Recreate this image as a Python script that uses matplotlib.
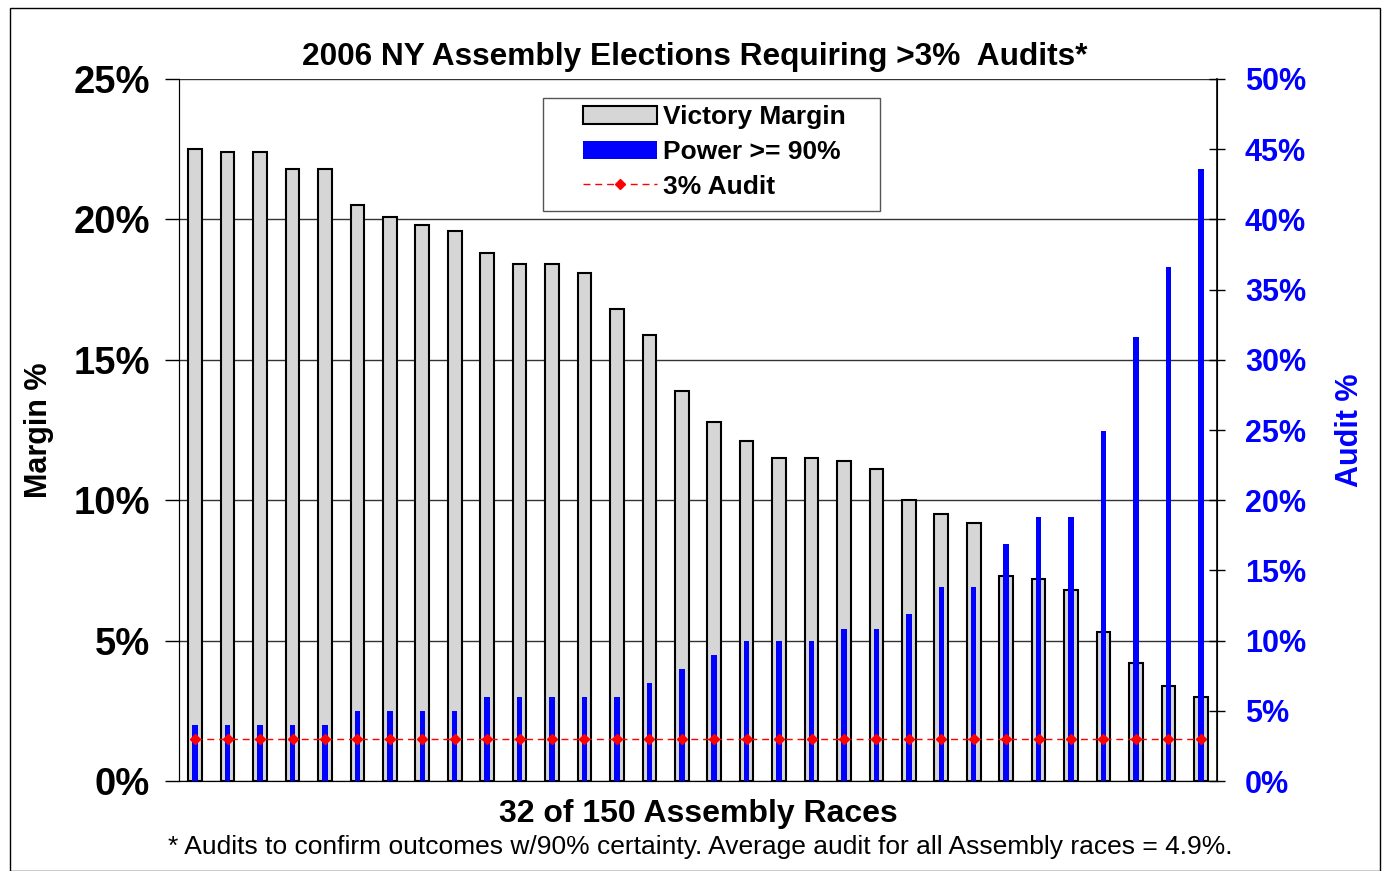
"""2006 NY Assembly elections: victory margin vs. audit size needed."""
import numpy as np
import matplotlib
matplotlib.use("Agg")
import matplotlib.pyplot as plt
from matplotlib.patches import Rectangle
from matplotlib.lines import Line2D
from matplotlib.ticker import FuncFormatter

# victory margin (%) per race, left axis
margin = [22.5, 22.4, 22.4, 21.8, 21.8, 20.5, 20.1, 19.8, 19.6, 18.8,
          18.4, 18.4, 18.1, 16.8, 15.9, 13.9, 12.8, 12.1, 11.5, 11.5,
          11.4, 11.1, 10.0, 9.5, 9.2, 7.3, 7.2, 6.8, 5.3, 4.2, 3.4, 3.0]
# audit (%) needed for power >= 90%, right axis
audit = [4.0, 4.0, 4.0, 4.0, 4.0, 5.0, 5.0, 5.0, 5.0, 6.0,
         6.0, 6.0, 6.0, 6.0, 7.0, 8.0, 9.0, 10.0, 10.0, 10.0,
         10.8, 10.8, 11.9, 13.8, 13.8, 16.9, 18.8, 18.8, 24.9, 31.6,
         36.6, 43.6]
flat_audit = 3.0

plt.rcParams.update({
    "font.family": ["Liberation Sans", "DejaVu Sans"],
    "font.weight": "bold",
})

W, H = 1387, 871
fig = plt.figure(figsize=(W / 100, H / 100), dpi=100)
ax = fig.add_axes([179 / W, 1 - 781 / H, (1217 - 179) / W, (781 - 79) / H])
ax2 = ax.twinx()

x = np.arange(len(margin))
ax.bar(x, margin, width=0.42, color="#d6d6d6", edgecolor="black", linewidth=1.5, zorder=2)
ax2.bar(x, audit, width=0.17, color="#0000ff", zorder=3)
ax2.plot(x, [flat_audit] * len(x), color="red", ls=(0, (5, 3.5)), lw=1.0,
         marker="D", ms=5.5, zorder=4)

ax.set_xlim(-0.5, len(x) - 0.5)
ax.set_ylim(0, 25)
ax2.set_ylim(0, 50)
ax.set_yticks(np.arange(0, 26, 5))
ax2.set_yticks(np.arange(0, 51, 5))
pct = FuncFormatter(lambda v, p: f"{v:.0f}%")
ax.yaxis.set_major_formatter(pct)
ax2.yaxis.set_major_formatter(pct)
ax.set_xticks([])
ax.grid(True, axis="y", color="#333333", linewidth=1.0, zorder=0)
ax.set_axisbelow(True)
ax.set_zorder(0)
ax2.set_zorder(1)
ax.patch.set_visible(False)

for a in (ax, ax2):
    a.spines["top"].set_visible(False)
ax.spines["left"].set_color("#333333")
ax.spines["bottom"].set_color("#333333")
ax2.spines["right"].set_linewidth(1.2)
ax.tick_params(axis="y", direction="out", length=10, width=1, labelsize=27.5, pad=11)
ax2.tick_params(axis="y", direction="inout", length=12, width=1, labelsize=22,
                labelcolor="#0000ff", pad=14)

ax.set_ylabel("Margin %", fontsize=22, fontweight="bold", labelpad=14)
ax2.set_ylabel("Audit %", fontsize=22, fontweight="bold", color="#0000ff", labelpad=21)
ax.set_xlabel("32 of 150 Assembly Races", fontsize=23, fontweight="bold", labelpad=13)
fig.text(0.501, 1 - 57 / H, "2006 NY Assembly Elections Requiring >3%  Audits*",
         ha="center", va="center", fontsize=22.8, fontweight="bold")
fig.text(0.505, 1 - 847 / H,
         "* Audits to confirm outcomes w/90% certainty. Average audit for all Assembly races = 4.9%.",
         ha="center", va="center", fontsize=19, fontweight="normal")

# legend box drawn separately: wide side padding, tight top/bottom
ax2.add_patch(Rectangle(((543 - 179) / 1038, 1 - (211 - 79) / 702),
                        (880 - 543) / 1038, (211 - 98) / 702,
                        transform=ax2.transAxes, facecolor="white",
                        edgecolor="#555555", linewidth=1.0, zorder=5))
handles = [
    Rectangle((0, 0), 1, 1, facecolor="#d6d6d6", edgecolor="black", linewidth=1.5),
    Rectangle((0, 0), 1, 1, facecolor="#0000ff", edgecolor="none"),
    Line2D([], [], color="red", ls=(0, (5, 3.5)), lw=1.0, marker="D", ms=5.5),
]
leg = ax2.legend(handles, ["Victory Margin", "Power >= 90%", "3% Audit"],
                 loc="center left",
                 bbox_to_anchor=((583 - 179) / 1038, 1 - (152 - 79) / 702),
                 fontsize=19, frameon=False,
                 handlelength=2.8, handleheight=0.7, handletextpad=0.25,
                 borderpad=0, labelspacing=0.4, borderaxespad=0)
leg.set_zorder(6)

fig.patches.append(Rectangle((10 / W, 0.0), 1370 / W, 1 - 8 / H,
                             transform=fig.transFigure, fill=False,
                             edgecolor="black", linewidth=1.0))

fig.savefig("out.png", dpi=100)
